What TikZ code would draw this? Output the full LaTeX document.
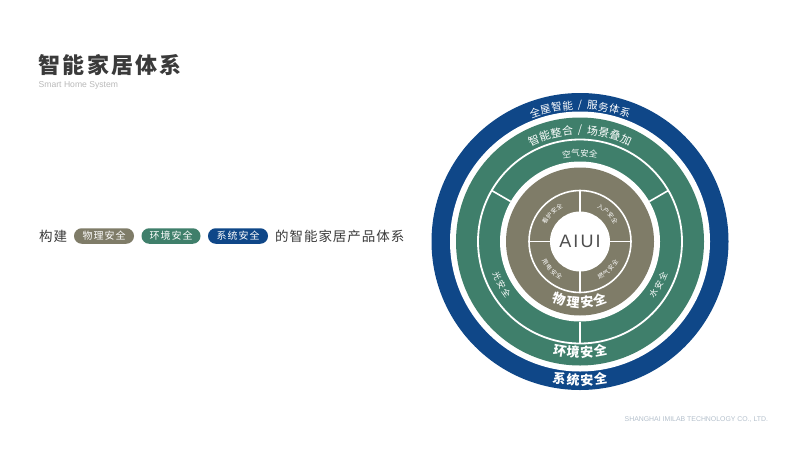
\documentclass[tikz,border=0pt]{standalone}
\usepackage{fontspec}
\setmainfont{Liberation Sans}
\newfontfamily\cjk{Noto Sans CJK SC}
\newfontfamily\cjkwide[LetterSpace=7]{Noto Sans CJK SC}
\newfontfamily\cjkpill[LetterSpace=10]{Noto Sans CJK SC}
\newfontfamily\cjktitle[LetterSpace=10]{Noto Sans CJK SC}
\newfontfamily\latinwide[LetterSpace=12]{Liberation Sans}
\definecolor{navy}{HTML}{0F4788}
\definecolor{teal}{HTML}{3F7F6B}
\definecolor{stone}{HTML}{7F7C68}
\definecolor{ink}{HTML}{3A3A3A}
\definecolor{footc}{HTML}{B4C0CC}
\tikzset{
  x=1pt,y=-1pt,
  ringtext/.style={white,inner sep=0},
  pill/.style={rounded corners=7.7pt,minimum height=15.5pt,inner sep=0,text=white,font=\cjkpill\fontsize{10}{10}\selectfont},
  spoke/.style={white,line width=1.6pt},
}
\newcommand{\toparc}[7][]{%
  \foreach \ch [count=\i from 0] in {#7} {
    \pgfmathsetmacro{\ang}{#4-(\i-(#6)/2)*#5}
    \pgfmathsetmacro{\px}{580+#3*cos(\ang)}
    \pgfmathsetmacro{\py}{241.5-#3*sin(\ang)}
    \pgfmathsetmacro{\rot}{\ang-90}
    \node[ringtext,rotate=\rot,font=\cjk#1\fontsize{#2}{#2}\selectfont] at (\px,\py) {\ch};
  }}
\newcommand{\botarc}[7][]{%
  \foreach \ch [count=\i from 0] in {#7} {
    \pgfmathsetmacro{\ang}{#4+(\i-(#6)/2)*#5}
    \pgfmathsetmacro{\px}{580+#3*cos(\ang)}
    \pgfmathsetmacro{\py}{241.5-#3*sin(\ang)}
    \pgfmathsetmacro{\rot}{\ang+90}
    \node[ringtext,rotate=\rot,font=\cjk#1\fontsize{#2}{#2}\selectfont] at (\px,\py) {\ch};
  }}
\begin{document}
\begin{tikzpicture}
\useasboundingbox (0,0) rectangle (800,450);
\fill[white] (0,0) rectangle (800,450);
% title
\node[anchor=west,inner sep=0,ink,font=\cjktitle\bfseries\fontsize{22}{22}\selectfont] (title) at (38.5,65) {智能家居体系};
\node[anchor=west,inner sep=0,gray!55,font=\fontsize{8.6}{9}\selectfont] (sub) at (38.5,85) {Smart Home System};
% sentence
\node[anchor=west,inner sep=0,ink,font=\cjkwide\fontsize{13.5}{13.5}\selectfont] (a) at (39,236) {构建};
\node[pill,fill=stone,minimum width=60pt] (p1) at (104,236) {物理安全};
\node[pill,fill=teal,minimum width=59pt] (p2) at (171,236) {环境安全};
\node[pill,fill=navy,minimum width=60pt] (p3) at (238,236) {系统安全};
\node[anchor=west,inner sep=0,ink,font=\cjkwide\fontsize{13.5}{13.5}\selectfont] (b) at (275,236) {的智能家居产品体系};
% footer
\node[anchor=west,inner sep=0,footc,font=\fontsize{6.9}{7}\selectfont] (foot) at (624.5,420) {SHANGHAI IMILAB TECHNOLOGY CO., LTD.};
% rings
\fill[navy] (580,241.5) circle (148.5);
\fill[white] (580,241.5) circle (130);
\fill[teal] (580,241.5) circle (124);
\fill[white] (580,241.5) circle (80);
\fill[stone] (580,241.5) circle (74);
\draw[white,line width=1.8pt] (580,241.5) circle (102);
\draw[white,line width=1.6pt] (580,241.5) circle (51);
\draw[spoke] (649.3,201.5) -- (668.3,190.5);
\draw[spoke] (510.7,201.5) -- (491.7,190.5);
\draw[spoke] (580,321.5) -- (580,343.5);
\draw[spoke] (580,190.5) -- (580,292.5);
\draw[spoke] (529,241.5) -- (631,241.5);
\fill[white] (580,241.5) circle (30);
\node[inner sep=0,ink!90,font=\latinwide\fontsize{18}{18}\selectfont] (aiui) at (580,241.5) {AIUI};
% arc labels
\toparc{10.5}{136.5}{102.25}{4.7}{3}{全,屋,智,能}
\toparc{10.5}{136.5}{90}{0}{0}{/}
\toparc{10.5}{136.5}{77.75}{4.7}{3}{服,务,体,系}
\toparc{11}{111.5}{105.4}{6}{3}{智,能,整,合}
\toparc{11}{111.5}{90}{0}{0}{/}
\toparc{11}{111.5}{74.6}{6}{3}{场,景,叠,加}
\toparc{8.5}{88.5}{90}{5.8}{3}{空,气,安,全}
\toparc{6}{40.5}{135}{9.5}{3}{看,护,安,全}
\toparc{6}{40.5}{45}{9.5}{3}{入,户,安,全}
\botarc{6}{40.5}{225}{9.5}{3}{用,电,安,全}
\botarc{6}{40.5}{315}{9.5}{3}{燃,气,安,全}
\botarc[\bfseries]{13}{61}{270}{13}{3}{物,理,安,全}
\botarc[\bfseries]{13}{111}{270}{7}{3}{环,境,安,全}
\botarc[\bfseries]{13}{138.5}{270}{5.7}{3}{系,统,安,全}
\botarc{8.5}{90}{209}{6.2}{2}{光,安,全}
\botarc{8.5}{90}{331}{6.2}{2}{水,安,全}
\end{tikzpicture}
\end{document}
